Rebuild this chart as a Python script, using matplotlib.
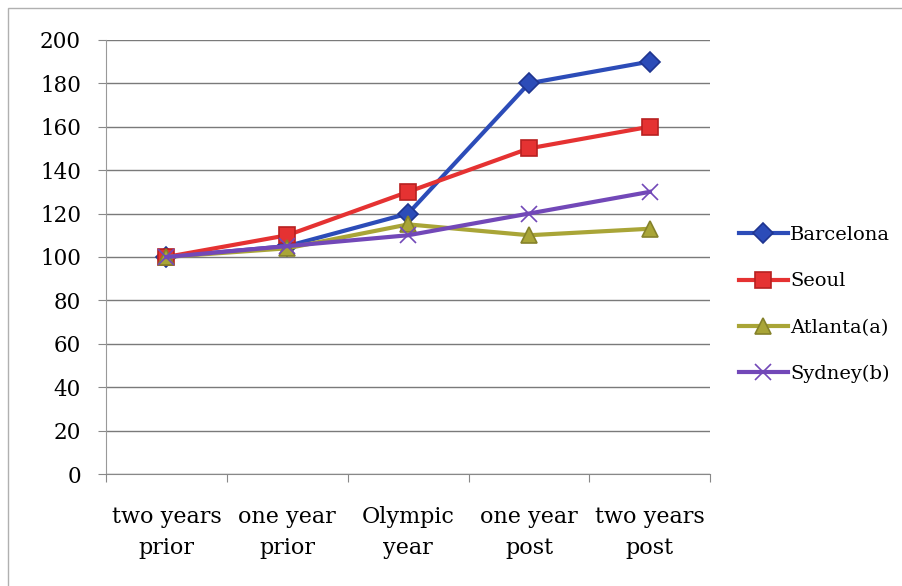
import matplotlib.pyplot as plt
from matplotlib.patches import Rectangle

# index values relative to two years before the games (=100)
periods = ["two years\nprior", "one year\nprior", "Olympic\nyear", "one year\npost", "two years\npost"]
barcelona = [100, 105, 120, 180, 190]
seoul = [100, 110, 130, 150, 160]
atlanta = [100, 104, 115, 110, 113]
sydney = [100, 105, 110, 120, 130]

plt.rcParams['font.family'] = ['DejaVu Serif']

fig = plt.figure(figsize=(9.02, 5.86), dpi=100)
ax = fig.add_axes([0.1175, 0.191, 0.67, 0.741])

# chart frame
fig.patches.append(Rectangle((0.009, -0.02), 1.2, 1.006, transform=fig.transFigure,
                             fill=False, edgecolor='#b0b0b0', linewidth=1.0))

x = list(range(len(periods)))
series = [
    ("Barcelona", barcelona, '#2c4cb8', '#1f3590', 'D', 10),
    ("Seoul", seoul, '#e53232', '#b82020', 's', 12),
    ("Atlanta(a)", atlanta, '#a9a537', '#85822a', '^', 12),
    ("Sydney(b)", sydney, '#7248b8', '#5a3a96', 'x', 11),
]
for name, vals, col, edge, mk, ms in series:
    ax.plot(x, vals, color=col, linewidth=3, marker=mk, markersize=ms,
            markerfacecolor=col, markeredgecolor=edge if mk != 'x' else col,
            markeredgewidth=1.2, label=name, zorder=3)

ax.set_ylim(0, 200)
ax.set_yticks(range(0, 201, 20))
ax.set_xlim(-0.5, len(periods) - 0.5)
ax.set_xticks([i - 0.5 for i in range(len(periods) + 1)])
ax.set_xticklabels([])
ax.set_xticks(x, minor=True)
ax.set_xticklabels(periods, minor=True, fontsize=16, linespacing=1.5)
ax.tick_params(axis='x', which='minor', length=0, pad=23)
ax.tick_params(axis='x', which='major', length=6, direction='out', color='#888888')
ax.tick_params(axis='y', length=6, direction='out', color='#888888', labelsize=15.5, pad=12)

ax.yaxis.grid(True, color='#7a7a7a', linewidth=1.0)
ax.set_axisbelow(True)
for side in ['top', 'right']:
    ax.spines[side].set_visible(False)
ax.spines['left'].set_color('#999999')
ax.spines['bottom'].set_color('#888888')

fig.legend(loc='center left', bbox_to_anchor=(0.8, 0.48), frameon=False,
           fontsize=14, handlelength=2.5, handletextpad=0.12, labelspacing=1.45)

fig.savefig("out.png", dpi=100)
